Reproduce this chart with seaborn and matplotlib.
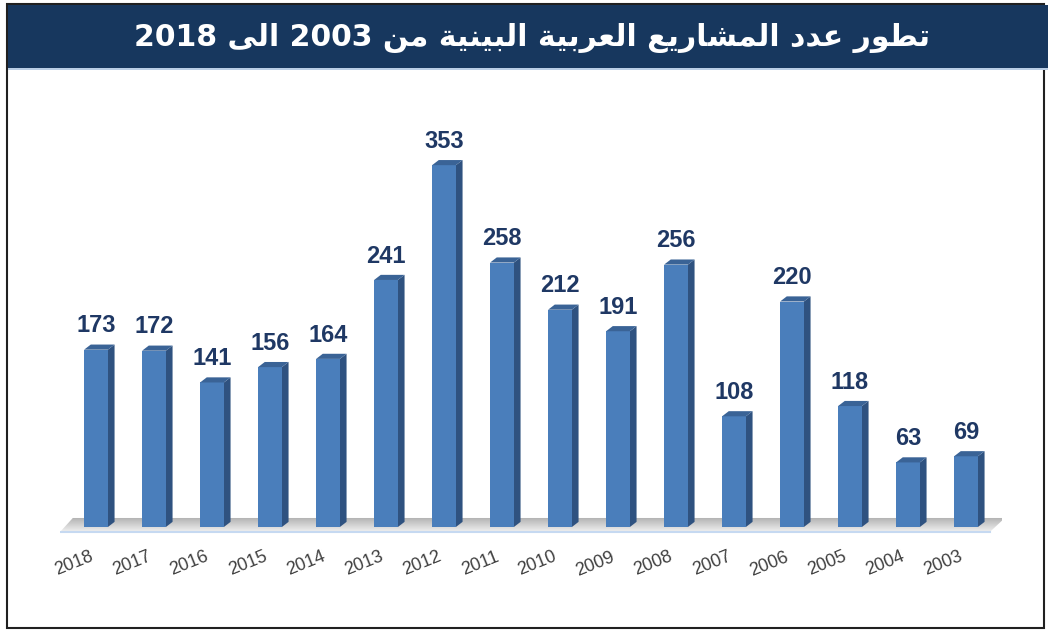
import matplotlib
matplotlib.use('Agg')
import matplotlib.pyplot as plt
import seaborn as sns
import numpy as np
import pandas as pd
from matplotlib.patches import Polygon, Rectangle
from matplotlib.transforms import ScaledTranslation

years = ['2018', '2017', '2016', '2015', '2014', '2013', '2012', '2011',
         '2010', '2009', '2008', '2007', '2006', '2005', '2004', '2003']
projects = [173, 172, 141, 156, 164, 241, 353, 258, 212, 191, 256, 108, 220, 118, 63, 69]
title_text = 'تطور عدد المشاريع العربية البينية من 2003 الى 2018'

front_col = '#4A7EBB'
side_col = '#2F5280'
top_col = '#3A6396'
navy = '#17375E'

# matplotlib has no arabic shaping -> map letters to their contextual forms
forms = {  # isolated, final, initial, medial
    'ا': ('\ufe8d', '\ufe8e', None, None),
    'ب': ('\ufe8f', '\ufe90', '\ufe91', '\ufe92'),
    'ة': ('\ufe93', '\ufe94', None, None),
    'ت': ('\ufe95', '\ufe96', '\ufe97', '\ufe98'),
    'د': ('\ufea9', '\ufeaa', None, None),
    'ر': ('\ufead', '\ufeae', None, None),
    'ش': ('\ufeb5', '\ufeb6', '\ufeb7', '\ufeb8'),
    'ط': ('\ufec1', '\ufec2', '\ufec3', '\ufec4'),
    'ع': ('\ufec9', '\ufeca', '\ufecb', '\ufecc'),
    'ل': ('\ufedd', '\ufede', '\ufedf', '\ufee0'),
    'م': ('\ufee1', '\ufee2', '\ufee3', '\ufee4'),
    'ن': ('\ufee5', '\ufee6', '\ufee7', '\ufee8'),
    'و': ('\ufeed', '\ufeee', None, None),
    'ى': ('\ufeef', '\ufef0', None, None),
    'ي': ('\ufef1', '\ufef2', '\ufef3', '\ufef4'),
}


def shape_word(word):
    if not any(c in forms for c in word):
        return word
    out = []
    for i, c in enumerate(word):
        prev_joins = i > 0 and forms[word[i - 1]][2] is not None
        next_joins = i < len(word) - 1 and forms[c][2] is not None
        iso, fin, ini, med = forms[c]
        if prev_joins and next_joins:
            out.append(med)
        elif prev_joins:
            out.append(fin)
        elif next_joins:
            out.append(ini)
        else:
            out.append(iso)
    return ''.join(out[::-1])


def visual(text):
    return ' '.join(shape_word(w) for w in text.split(' ')[::-1])


df = pd.DataFrame({'year': years, 'count': projects})

W, H = 1048, 630
fig = plt.figure(figsize=(W / 100, H / 100), dpi=100)

# axes placement (pixel based)
px_unit = 1.025
ymin, ymax = -10, 390
base_px = 527
ax_left = 96 - 0.62 * 58
ax = fig.add_axes([ax_left / W, (H - (base_px - ymin * px_unit)) / H,
                   16.24 * 58 / W, (ymax - ymin) * px_unit / H])

sns.barplot(data=df, x='year', y='count', order=years, color=front_col,
            width=0.41, saturation=1, ax=ax, zorder=2)
bars = [p for p in ax.patches if isinstance(p, Rectangle)]

# floor with gradient
fx = [-0.62, 15.41, 15.67, -0.4]
fy = [-4.9, -4.9, 8.8, 8.8]
floor = Polygon(list(zip(fx, fy)), closed=True, facecolor='none', edgecolor='none')
ax.add_patch(floor)
grad = np.linspace(0, 1, 50).reshape(-1, 1)
im = ax.imshow(grad, cmap=sns.light_palette('#B0B0B0', as_cmap=True), aspect='auto',
               extent=[-0.62, 15.67, -4.9, 8.8], origin='lower', zorder=0.5)
im.set_clip_path(floor)
ax.plot([-0.62, 15.41], [-4.9, -4.9], color='#C6D9F1', lw=1.5, zorder=0.6)

dx, dy = 0.115, 5.0
for p, v in zip(bars, projects):
    x0, w, h = p.get_x(), p.get_width(), p.get_height()
    side = Polygon([(x0 + w, 0), (x0 + w + dx, dy), (x0 + w + dx, h + dy), (x0 + w, h)],
                   closed=True, facecolor=side_col, edgecolor='none', zorder=1.9)
    top = Polygon([(x0, h), (x0 + dx, h + dy), (x0 + w + dx, h + dy), (x0 + w, h)],
                  closed=True, facecolor=top_col, edgecolor='none', zorder=2.1)
    ax.add_patch(side)
    ax.add_patch(top)
    ax.text(x0 + w / 2, h + dy + 7, str(v), ha='center', va='bottom',
            fontsize=17, fontweight='bold', color='#1F3864', family='Liberation Sans')

ax.set_xlim(-0.62, 15.62)
ax.set_ylim(ymin, ymax)
ax.set_xlabel('')
ax.set_ylabel('')
ax.set_yticks([])
for s in ax.spines.values():
    s.set_visible(False)
ax.tick_params(axis='x', length=0, pad=8)
ax.set_xticks(range(len(years)))
ax.set_xticklabels(years, rotation=22, ha='right', va='top', rotation_mode='anchor',
                   fontsize=13, color='#404040', family='Liberation Sans')
for lab in ax.get_xticklabels():
    lab.set_transform(lab.get_transform() + ScaledTranslation(-0.07, 0, fig.dpi_scale_trans))
ax.patch.set_alpha(0)

# frame and title banner
fig.patches.append(Rectangle((7 / W, 1 - 628 / H), (1044 - 7) / W, (628 - 4) / H,
                             transform=fig.transFigure, facecolor='none',
                             edgecolor='#202020', lw=1.5))
fig.patches.append(Rectangle((8 / W, 1 - 68 / H), (W - 8) / W, 63 / H,
                             transform=fig.transFigure, facecolor=navy, edgecolor='none'))
fig.patches.append(Rectangle((8 / W, 1 - 70 / H), (W - 8) / W, 2 / H,
                             transform=fig.transFigure, facecolor='#B9CDE5', edgecolor='none'))
fig.text(532 / W, 1 - 38 / H, visual(title_text), ha='center', va='center',
         fontsize=21.5, fontweight='bold', color='white', family='DejaVu Sans')

fig.savefig('out.png', dpi=100)
